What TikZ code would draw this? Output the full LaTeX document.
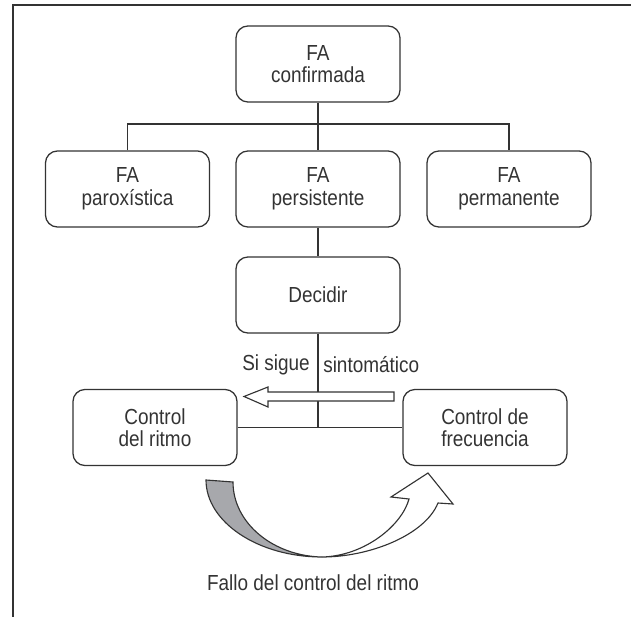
\documentclass[tikz,border=0pt]{standalone}
\usepackage{fontspec}
\setmainfont{Liberation Sans}[FakeStretch=0.87]
\definecolor{tinta}{RGB}{51,51,51}
\definecolor{gris}{RGB}{167,168,172}
\tikzset{
	caja/.style={draw=tinta, line width=0.9pt, rounded corners=0.3cm, minimum width=4.1cm, minimum height=1.9cm, align=center, text=tinta, font=\fontsize{15.5}{16}\selectfont, inner sep=0pt},
	etiqueta/.style={text=tinta, font=\fontsize{15.5}{16}\selectfont, inner sep=0pt},
	linea/.style={draw=tinta, line width=0.8pt}
}
\begin{document}
\begin{tikzpicture}[x=0.025cm, y=-0.025cm]
	\useasboundingbox (0,0) rectangle (631,617);
	\draw[linea] (13,617) -- (13,5) -- (631,5);
	\node[caja] (conf) at (318,64) {FA\\confirmada};
	\foreach \nombre/\texto/\x in {parox/paroxística/127.5,pers/persistente/318,perm/permanente/509}{
		\node[caja] (\nombre) at (\x,189) {FA\\\texto};
	}
	\node[caja] (dec) at (318,295) {Decidir};
	\node[caja] (ritmo) at (155,427.5) {Control\\del ritmo};
	\node[caja] (frec) at (485,427.5) {Control de\\frecuencia};
	\coordinate (bus) at (318,124);
	\draw[linea] (conf.south) -- (pers.north);
	\draw[linea] (parox.north) |- (bus) -| (perm.north);
	\draw[linea] (pers.south) -- (dec.north);
	\draw[linea] (ritmo.east) -- (frec.west);
	\draw[linea] (dec.south) -- (dec.south |- ritmo.east);
	\node[etiqueta, anchor=east] (si) at (310,365) {Si sigue};
	\node[etiqueta, anchor=west] (sint) at (323,365) {sintomático};
	\draw[linea, fill=white] (394,392) -- (268,392) -- (268,387) -- (244,396.5) -- (268,407) -- (268,401) -- (394,401) -- cycle;
	\draw[linea, fill=gris] (206,480) .. controls (206,522) and (258,557) .. (322,557) .. controls (273,556) and (233,523) .. (233,482) -- cycle;
	\draw[linea, fill=white] (322,557) .. controls (370,557) and (425,535) .. (438,503) -- (453,504) -- (428,473) -- (391,497) -- (409,499) .. controls (402,525) and (365,556) .. (322,557) -- cycle;
	\node[etiqueta] (fallo) at (313,583) {Fallo del control del ritmo};
\end{tikzpicture}
\end{document}
